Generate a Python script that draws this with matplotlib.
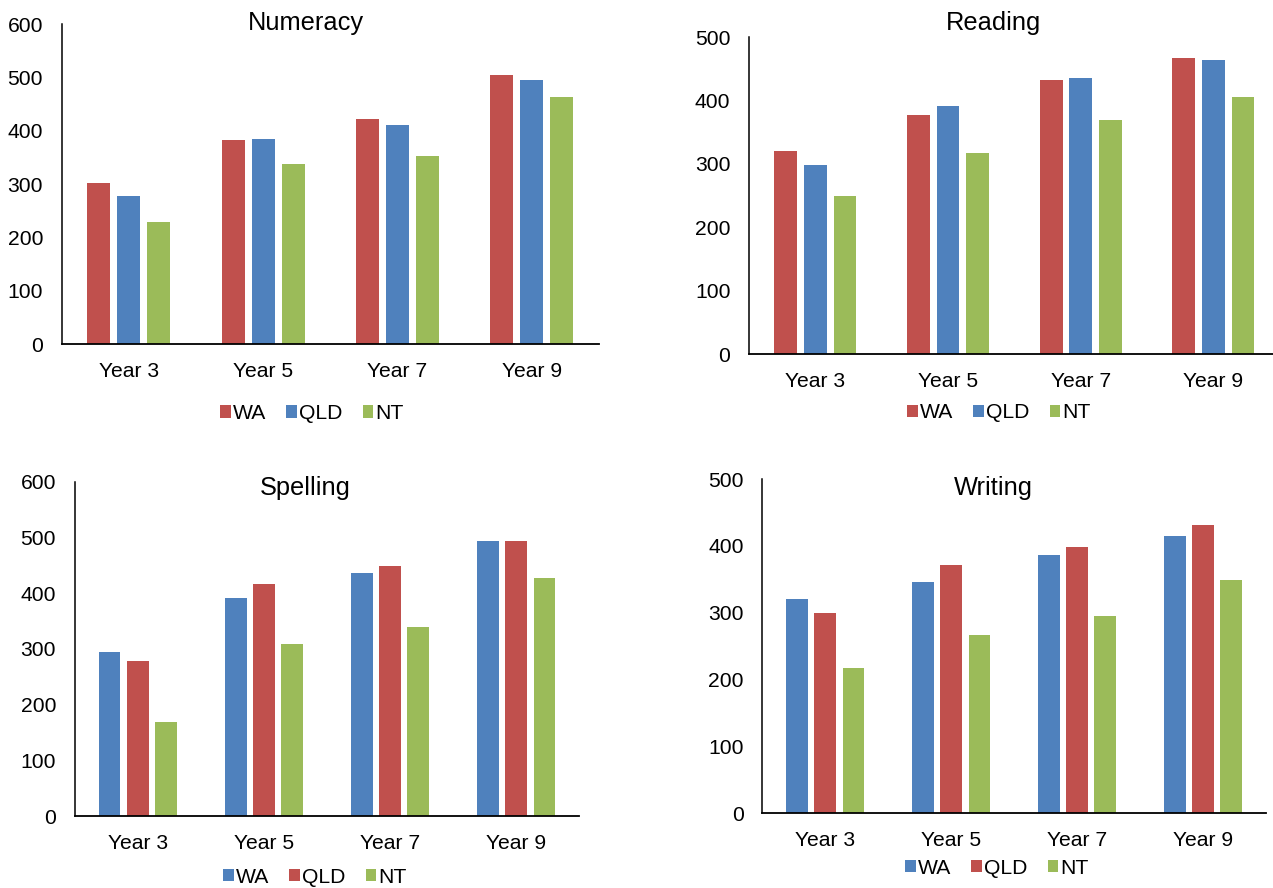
import matplotlib
matplotlib.use("Agg")
import matplotlib.pyplot as plt
import numpy as np

plt.rcParams['font.family'] = ['Liberation Sans', 'DejaVu Sans']

categories = ["Year 3", "Year 5", "Year 7", "Year 9"]

numeracy_wa = [302, 382, 422, 504]
numeracy_qld = [278, 385, 411, 495]
numeracy_nt = [230, 337, 353, 464]

reading_wa = [320, 378, 432, 468]
reading_qld = [298, 391, 436, 464]
reading_nt = [250, 318, 369, 405]

spelling_wa = [294, 392, 437, 493]
spelling_qld = [279, 416, 449, 493]
spelling_nt = [169, 308, 340, 428]

writing_wa = [320, 346, 387, 415]
writing_qld = [299, 371, 399, 431]
writing_nt = [217, 266, 295, 349]

RED = "#C0504D"
BLUE = "#4F81BD"
GREEN = "#9BBB59"

W, H = 1273, 888
fig = plt.figure(figsize=(W / 100, H / 100), dpi=100)

def px_axes(left, right, bottom, top):
    return fig.add_axes([left / W, 1 - bottom / H, (right - left) / W, (bottom - top) / H])

panels = [
    # title, series, colors, ymax, axes px (left,right,bottom,top), xmax, title xy, legend xy
    ("Numeracy", [numeracy_wa, numeracy_qld, numeracy_nt], [RED, BLUE, GREEN], 600,
     (61.7, 599, 344.3, 24), 3.5, (306, 23), (312, 413.5)),
    ("Reading", [reading_wa, reading_qld, reading_nt], [RED, BLUE, GREEN], 500,
     (749, 1273, 354, 37.3), -0.5 + (1273 - 749) / 132.7, (993, 23), (999, 413)),
    ("Spelling", [spelling_wa, spelling_qld, spelling_nt], [BLUE, RED, GREEN], 600,
     (74.7, 579.3, 816, 481.7), 3.5, (305.6, 488), (315, 877)),
    ("Writing", [writing_wa, writing_qld, writing_nt], [BLUE, RED, GREEN], 500,
     (762.3, 1266.2, 813.3, 479), 3.5, (993, 488), (997, 868)),
]

labels = ["WA", "QLD", "NT"]
x = np.arange(len(categories))
width = 0.172
offsets = [-0.223, 0.0, 0.223]

for title, series, colors, ymax, box, xmax, txy, lxy in panels:
    ax = px_axes(*box)
    handles = []
    for vals, col, off, lab in zip(series, colors, offsets, labels):
        h = ax.bar(x + off, vals, width, color=col, label=lab, zorder=2)
        handles.append(h)
    ax.set_xlim(-0.5, xmax)
    ax.set_ylim(0, ymax)
    ax.set_yticks(np.arange(0, ymax + 1, 100))
    ax.set_xticks(x)
    ax.set_xticklabels(categories)
    ax.tick_params(axis='both', length=0, labelsize=15.2)
    ax.tick_params(axis='y', pad=13.4)
    ax.tick_params(axis='x', pad=13)
    for s in ['top', 'right']:
        ax.spines[s].set_visible(False)
    ax.spines['left'].set_linewidth(1.1)
    ax.spines['bottom'].set_linewidth(1.3)
    ax.spines['left'].set_color('black')
    ax.spines['bottom'].set_color('black')
    ax.patch.set_alpha(0)
    fig.text(txy[0] / W, 1 - txy[1] / H, title, ha='center', va='center', fontsize=18.3)
    fig.legend(handles=handles, labels=labels, loc='center', bbox_to_anchor=(lxy[0] / W, 1 - lxy[1] / H),
               ncol=3, frameon=False, fontsize=15.2, handlelength=0.48, handleheight=0.53,
               handletextpad=0.12, columnspacing=0.95, borderpad=0, borderaxespad=0)

fig.savefig("out.png", dpi=100)
